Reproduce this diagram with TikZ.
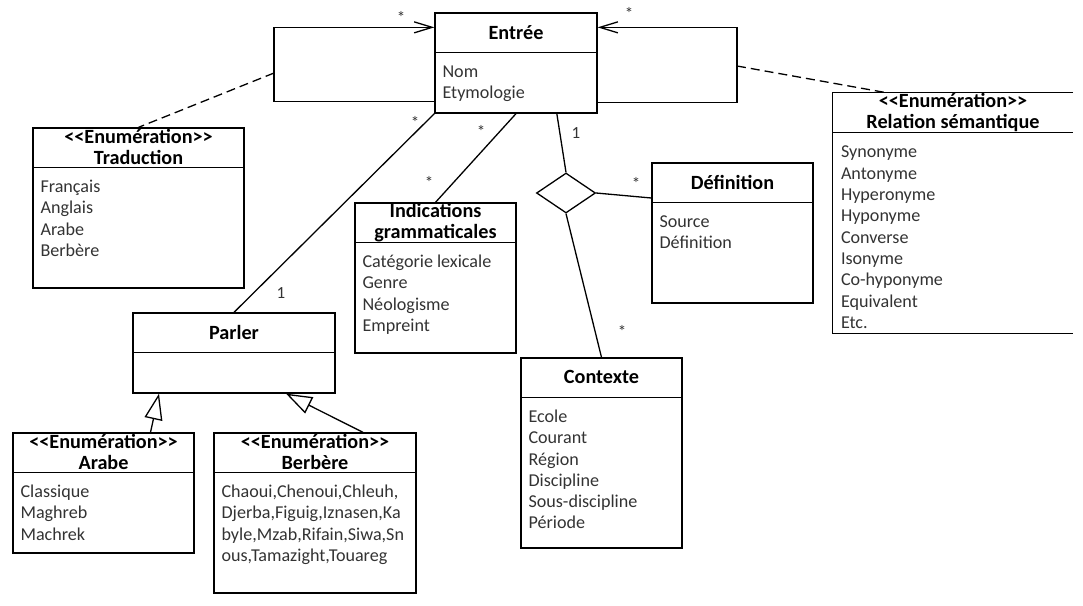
\documentclass[tikz,border=0pt]{standalone}
\usepackage{fontspec}
\setmainfont{Carlito}
\usepackage{tikz}
\usetikzlibrary{calc,arrows.meta,shapes.geometric}
\definecolor{linec}{HTML}{000000}
\definecolor{attc}{HTML}{333333}
\tikzset{
  base/.style={draw=linec, line width=1.3pt},
  cls/.style={draw=linec, line width=1.3pt, rectangle, inner sep=0pt},
  ttl/.style={font=\bfseries\fontsize{20.2}{21}\selectfont, align=center, inner sep=0pt},
  att/.style={font=\fontsize{18.1}{21.3}\selectfont, text=attc, align=left, anchor=north west, inner sep=0pt},
  mult/.style={font=\fontsize{17}{20}\selectfont, text=attc, inner sep=0pt},
  nav/.style={base, -{Straight Barb[length=18pt,width=11pt]}},
  gen/.style={base, -{Triangle[open,length=26pt,width=18pt]}},
  dep/.style={base, dash pattern=on 9pt off 5pt},
}
\begin{document}
\begin{tikzpicture}[x=1pt,y=-1pt]
  \useasboundingbox (0,0) rectangle (1083,605);
  % classes
  \node[cls, minimum width=162pt, minimum height=100pt] (entree) at (516,63) {};
  \draw[base] ([yshift=-40pt]entree.north west) -- ([yshift=-40pt]entree.north east);
  \node[ttl] (entreeT) at ([yshift=-20pt]entree.north) {Entrée};
  \node[att] (entreeA) at ([xshift=8pt,yshift=-50pt]entree.north west) {\strut Nom\\Etymologie};

  \node[cls, minimum width=211pt, minimum height=160pt] (trad) at (138.5,208) {};
  \draw[base] ([yshift=-40pt]trad.north west) -- ([yshift=-40pt]trad.north east);
  \node[ttl] (tradT) at ([yshift=-20pt]trad.north) {<{}<Enumération>{}>\\Traduction};
  \node[att] (tradA) at ([xshift=8pt,yshift=-50pt]trad.north west) {\strut Français\\Anglais\\Arabe\\Berbère};

  \node[minimum width=240pt, minimum height=240pt, inner sep=0pt] (relsem) at (953,213) {};
  \draw[base] (relsem.north east) -- (relsem.north west) -- (relsem.south west) -- (relsem.south east);
  \draw[base] ([yshift=-40pt]relsem.north west) -- ([yshift=-40pt]relsem.north east);
  \node[ttl] (relsemT) at ([yshift=-20pt]relsem.north) {<{}<Enumération>{}>\\Relation sémantique};
  \node[att] (relsemA) at ([xshift=8pt,yshift=-50pt]relsem.north west) {\strut Synonyme\\Antonyme\\Hyperonyme\\Hyponyme\\Converse\\Isonyme\\Co-hyponyme\\Equivalent\\Etc.};

  \node[cls, minimum width=161pt, minimum height=140pt] (defin) at (732.5,233) {};
  \draw[base] ([yshift=-40pt]defin.north west) -- ([yshift=-40pt]defin.north east);
  \node[ttl] (definT) at ([yshift=-20pt]defin.north) {Définition};
  \node[att] (definA) at ([xshift=8pt,yshift=-50pt]defin.north west) {\strut Source\\Définition};

  \node[cls, minimum width=161pt, minimum height=150pt] (indic) at (435.5,278) {};
  \draw[base] ([yshift=-40pt]indic.north west) -- ([yshift=-40pt]indic.north east);
  \node[ttl] (indicT) at ([yshift=-20pt]indic.north) {Indications\\grammaticales};
  \node[att] (indicA) at ([xshift=8pt,yshift=-50pt]indic.north west) {\strut Catégorie lexicale\\Genre\\Néologisme\\Empreint};

  \node[cls, minimum width=161pt, minimum height=190pt] (contexte) at (601.5,453) {};
  \draw[base] ([yshift=-40pt]contexte.north west) -- ([yshift=-40pt]contexte.north east);
  \node[ttl] (contexteT) at ([yshift=-20pt]contexte.north) {Contexte};
  \node[att] (contexteA) at ([xshift=8pt,yshift=-50pt]contexte.north west) {\strut Ecole\\Courant\\Région\\Discipline\\Sous-discipline\\Période};

  \node[cls, minimum width=202pt, minimum height=80pt] (parler) at (234,353) {};
  \draw[base] ([yshift=-40pt]parler.north west) -- ([yshift=-40pt]parler.north east);
  \node[ttl] (parlerT) at ([yshift=-20pt]parler.north) {Parler};

  \node[cls, minimum width=181pt, minimum height=120pt] (arabe) at (103.5,493) {};
  \draw[base] ([yshift=-40pt]arabe.north west) -- ([yshift=-40pt]arabe.north east);
  \node[ttl] (arabeT) at ([yshift=-20pt]arabe.north) {<{}<Enumération>{}>\\Arabe};
  \node[att] (arabeA) at ([xshift=8pt,yshift=-50pt]arabe.north west) {\strut Classique\\Maghreb\\Machrek};

  \node[cls, minimum width=202pt, minimum height=160pt] (berbere) at (315,513) {};
  \draw[base] ([yshift=-40pt]berbere.north west) -- ([yshift=-40pt]berbere.north east);
  \node[ttl] (berbereT) at ([yshift=-20pt]berbere.north) {<{}<Enumération>{}>\\Berbère};
  \node[att] (berbereA) at ([xshift=8pt,yshift=-50pt]berbere.north west) {\strut Chaoui,Chenoui,Chleuh,\\Djerba,Figuig,Iznasen,Ka\\byle,Mzab,Rifain,Siwa,Sn\\ous,Tamazight,Touareg};

  \node[draw=linec, line width=1.3pt, diamond, minimum width=59pt, minimum height=40pt, inner sep=0pt] (losange) at (566,193) {};

  % self associations and enumerations
  \coordinate (lloop) at (274,73);
  \coordinate (rloop) at (737,66);
  \draw[nav] ([yshift=-89pt]entree.north west) -| (lloop) |- ([yshift=-15pt]entree.north west);
  \draw[nav] ([yshift=-90pt]entree.north east) -| (rloop) |- ([yshift=-15pt]entree.north east);
  \draw[dep] (lloop) -- (trad.north);
  \draw[dep] (rloop) -- ([xshift=-66pt]relsem.north);

  % associations
  \draw[base] (entree.south west) -- (parler.north);
  \draw[base] (entree.south) -- (indic.north);
  \draw[base] ($(entree.south)!0.5!(entree.south east)$) -- (losange.north);
  \draw[base] (losange.east) -- ([yshift=35pt]defin.west);
  \draw[base] (losange.south) -- (contexte.north);
  \draw[gen] ([xshift=47pt]arabe.north) -- ([xshift=-75pt]parler.south);
  \draw[gen] ([xshift=48pt]berbere.north) -- ([xshift=52pt]parler.south);

  % multiplicities
  \node[mult] (m1) at (401,17) {*};
  \node[mult] (m2) at (629,13) {*};
  \node[mult] (m3) at (415,122) {*};
  \node[mult] (m4) at (281,293) {1};
  \node[mult] (m5) at (481,131) {*};
  \node[mult] (m6) at (429,182) {*};
  \node[mult] (m7) at (576,133) {1};
  \node[mult] (m8) at (636,183) {*};
  \node[mult] (m9) at (622,331) {*};
\end{tikzpicture}
\end{document}
